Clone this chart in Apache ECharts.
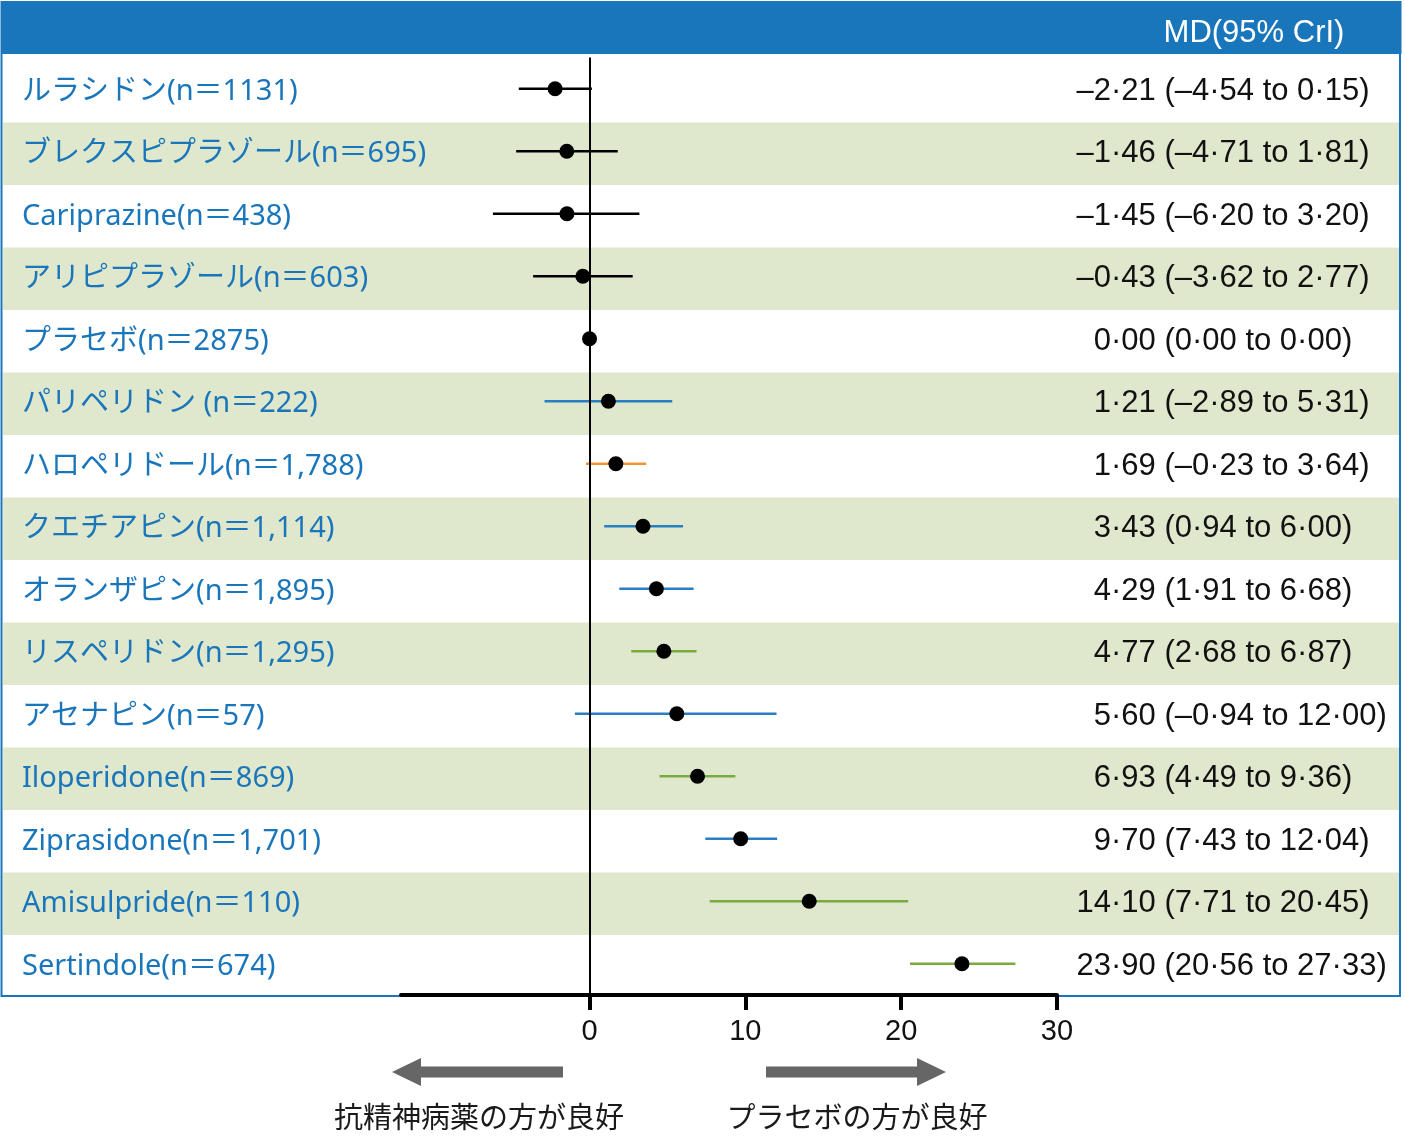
<!DOCTYPE html>
<html><head><meta charset="utf-8">
<script src="https://cdn.jsdelivr.net/npm/echarts@6/dist/echarts.min.js"></script>
<style>html,body{margin:0;padding:0;background:#fff}#c{width:1405px;height:1140px}</style>
</head><body><div id="c"></div>
<script>
// ---- data ----
const names = [
  'ルラシドン(n＝1131)',
  'ブレクスピプラゾール(n＝695)',
  'Cariprazine(n＝438)',
  'アリピプラゾール(n＝603)',
  'プラセボ(n＝2875)',
  'パリペリドン (n＝222)',
  'ハロペリドール(n＝1,788)',
  'クエチアピン(n＝1,114)',
  'オランザピン(n＝1,895)',
  'リスペリドン(n＝1,295)',
  'アセナピン(n＝57)',
  'Iloperidone(n＝869)',
  'Ziprasidone(n＝1,701)',
  'Amisulpride(n＝110)',
  'Sertindole(n＝674)'
];
const means = [-2.21, -1.46, -1.45, -0.43, 0.00, 1.21, 1.69, 3.43, 4.29, 4.77, 5.60, 6.93, 9.70, 14.10, 23.90];
const lows  = [-4.54, -4.71, -6.20, -3.62, 0.00, -2.89, -0.23, 0.94, 1.91, 2.68, -0.94, 4.49, 7.43, 7.71, 20.56];
const highs = [0.15, 1.81, 3.20, 2.77, 0.00, 5.31, 3.64, 6.00, 6.68, 6.87, 12.00, 9.36, 12.04, 20.45, 27.33];
const ciGroup = ['k','k','k','k','k','b','o','b','b','g','b','g','b','g','g'];
const xTicks = [0, 10, 20, 30];
const headerText = 'MD(95% CrI)';
const leftNote = '抗精神病薬の方が良好';
const rightNote = 'プラセボの方が良好';

// ---- styles ----
const palette = { k: '#000000', b: '#2a7fc4', o: '#f29634', g: '#7aab3e' };
const BLUE = '#1a76bb';
const nameFont = "'Noto Sans', 'Noto Sans CJK JP', sans-serif";
const numFont = "'Liberation Sans', Arial, sans-serif";

function fmt(v) { return (v < 0 ? '–' : '') + Math.abs(v).toFixed(2).replace('.', '·'); }
const intParts = means.map(m => { const s = fmt(m); return s.slice(0, s.indexOf('·')); });
const restParts = means.map((m, i) => { const s = fmt(m); return s.slice(s.indexOf('·')) + ' (' + fmt(lows[i]) + ' to ' + fmt(highs[i]) + ')'; });

const chart = echarts.init(document.getElementById('c'), null, { renderer: 'canvas' });
const hiddenCat = { axisLine: { show: false }, axisTick: { show: false }, splitLine: { show: false } };

chart.setOption({
  animation: false,
  grid: [
    { left: 3, right: 6, top: 60, bottom: 142.5 },
    { left: 401, right: 348, top: 57.5, bottom: 145 }
  ],
  xAxis: [
    { gridIndex: 0, type: 'value', min: 0, max: 1, show: false },
    {
      gridIndex: 1, type: 'value', min: -12.1, max: 30, z: 5,
      axisLine: { show: true, onZero: false, lineStyle: { color: '#000', width: 4 } },
      axisTick: { show: true, customValues: xTicks, length: 15, lineStyle: { color: '#000', width: 4 } },
      axisLabel: { customValues: xTicks, fontFamily: numFont, fontSize: 29, color: '#111', margin: 22 },
      splitLine: { show: false }
    }
  ],
  yAxis: [
    // row bands + drug names (background grid spanning the full table width)
    Object.assign({ gridIndex: 0, type: 'category', data: names, inverse: true, position: 'left',
      axisLabel: { interval: 0, align: 'left', margin: -19, fontFamily: nameFont, fontSize: 29, color: BLUE },
      splitArea: { show: true, interval: 0, areaStyle: { color: ['#ffffff', '#dfe8cc'] } } }, hiddenCat),
    // MD integer part, right aligned at decimal point
    Object.assign({ gridIndex: 0, type: 'category', data: names, inverse: true, position: 'right', offset: 0,
      axisLabel: { interval: 0, align: 'right', margin: -288, fontFamily: numFont, fontSize: 31, color: '#111',
        formatter: (v, i) => intParts[i] } }, hiddenCat),
    // MD decimal part and CrI
    Object.assign({ gridIndex: 0, type: 'category', data: names, inverse: true, position: 'right', offset: 0,
      axisLabel: { interval: 0, align: 'left', margin: -288, fontFamily: numFont, fontSize: 31, color: '#111',
        formatter: (v, i) => restParts[i] } }, hiddenCat),
    // data axis
    Object.assign({ gridIndex: 1, type: 'category', data: names, inverse: true, axisLabel: { show: false } }, hiddenCat)
  ],
  series: [
    {
      type: 'custom', xAxisIndex: 1, yAxisIndex: 3, z: 2,
      data: names.map((n, i) => [lows[i], highs[i], i]),
      encode: { x: [0, 1], y: 2 },
      renderItem: function (params, api) {
        const i = api.value(2);
        const p1 = api.coord([api.value(0), i]);
        const p2 = api.coord([api.value(1), i]);
        return { type: 'line', shape: { x1: p1[0], y1: p1[1], x2: p2[0], y2: p2[1] },
          style: { stroke: palette[ciGroup[i]], lineWidth: 2.5 } };
      }
    },
    {
      type: 'scatter', xAxisIndex: 1, yAxisIndex: 3, z: 4,
      data: means.map((m, i) => [m, i]),
      symbol: 'circle', symbolSize: 15,
      itemStyle: { color: '#000', opacity: 1 },
      markLine: {
        silent: true, symbol: ['none', 'none'], label: { show: false },
        lineStyle: { color: '#000', width: 2, type: 'solid' },
        data: [{ xAxis: 0 }]
      }
    }
  ],
  graphic: [
    { type: 'rect', z: 1, shape: { x: 1.5, y: 2, width: 1398.5, height: 994 },
      style: { fill: 'none', stroke: BLUE, lineWidth: 2 } },
    { type: 'rect', z: 1, shape: { x: 1, y: 1, width: 1400.5, height: 53 }, style: { fill: BLUE } },
    { type: 'text', z: 2, x: 1254, y: 33,
      style: { text: headerText, font: "31px 'Liberation Sans', Arial, sans-serif", fill: '#fff', align: 'center', verticalAlign: 'middle' } },
    { type: 'polygon', z: 1, shape: { points: [[392,1072],[421,1058],[421,1066.5],[563,1066.5],[563,1077.5],[421,1077.5],[421,1086]] },
      style: { fill: '#666' } },
    { type: 'polygon', z: 1, shape: { points: [[946,1072],[917,1058],[917,1066.5],[766,1066.5],[766,1077.5],[917,1077.5],[917,1086]] },
      style: { fill: '#666' } },
    { type: 'text', z: 2, x: 479, y: 1117,
      style: { text: leftNote, font: "29px 'Noto Sans CJK JP', sans-serif", fill: '#1a1a1a', align: 'center', verticalAlign: 'middle' } },
    { type: 'text', z: 2, x: 857, y: 1117,
      style: { text: rightNote, font: "29px 'Noto Sans CJK JP', sans-serif", fill: '#1a1a1a', align: 'center', verticalAlign: 'middle' } }
  ]
});
</script>
</body></html>
